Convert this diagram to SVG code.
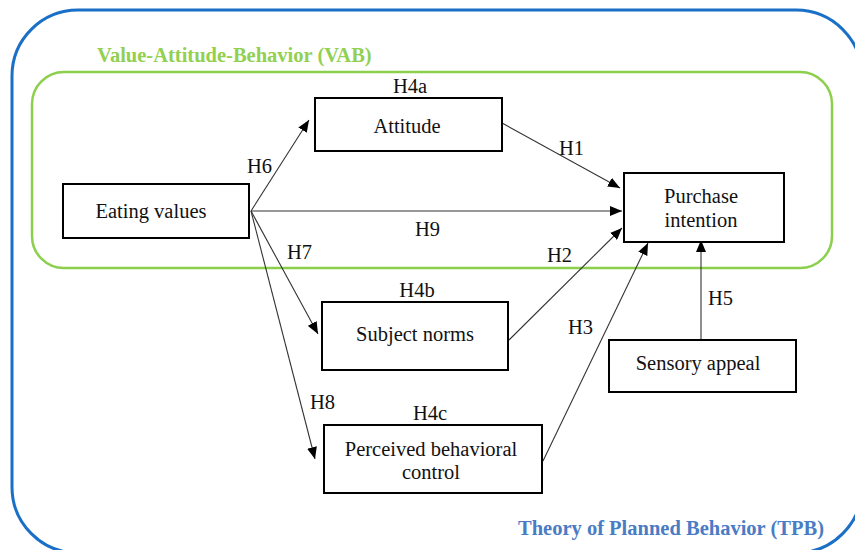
<svg xmlns="http://www.w3.org/2000/svg" width="855" height="550" viewBox="0 0 855 550">
<defs>
<marker id="ah" viewBox="0 0 12 10" refX="12" refY="5" markerWidth="12" markerHeight="10" markerUnits="userSpaceOnUse" orient="auto">
<path d="M0,0 L12,5 L0,10 z" fill="#000"/>
</marker>
<style>
text{font-family:'Liberation Serif','Times New Roman',serif}
.t{font-size:20.5px;fill:#111}
.box{fill:#fff;stroke:#000;stroke-width:2}
.c{stroke:#333;stroke-width:1.1;fill:none;marker-end:url(#ah)}
</style>
</defs>
<rect width="855" height="550" fill="#fff"/>
<g id="tpb">
<rect x="12" y="10" width="850" height="543" rx="66" ry="66" fill="none" stroke="#1a6fc6" stroke-width="3"/>
<text x="518" y="535" font-family="Liberation Serif, serif" font-size="20.5" font-weight="bold" fill="#4a7cc4">Theory of Planned Behavior (TPB)</text>
</g>
<g id="vab">
<rect x="32" y="72" width="800" height="196" rx="32" ry="32" fill="none" stroke="#8ccf4d" stroke-width="2.5"/>
<text x="97" y="62" font-family="Liberation Serif, serif" font-size="20.5" font-weight="bold" fill="#92d050">Value-Attitude-Behavior (VAB)</text>
</g>
<g id="connectors">
<line class="c" x1="251" y1="211" x2="309" y2="120"/>
<line class="c" x1="251" y1="211" x2="622" y2="211"/>
<line class="c" x1="502" y1="123" x2="620" y2="188"/>
<line class="c" x1="509" y1="340" x2="622" y2="228"/>
<line class="c" x1="543" y1="461" x2="648" y2="243"/>
<line class="c" x1="701" y1="340" x2="701" y2="240"/>
<line class="c" x1="251" y1="211" x2="318" y2="334"/>
<line class="c" x1="251" y1="211" x2="315" y2="459"/>
<text class="t" x="247" y="173">H6</text>
<text class="t" x="415" y="236">H9</text>
<text class="t" x="559" y="155">H1</text>
<text class="t" x="547" y="262">H2</text>
<text class="t" x="568" y="334">H3</text>
<text class="t" x="708" y="305">H5</text>
<text class="t" x="287" y="259">H7</text>
<text class="t" x="310" y="409">H8</text>
</g>
<g id="eating">
<rect class="box" x="63" y="184" width="186" height="54"/>
<text class="t" x="151" y="218" text-anchor="middle">Eating values</text>
</g>
<g id="attitude">
<rect class="box" x="315" y="98" width="187" height="53"/>
<text class="t" x="407" y="133" text-anchor="middle">Attitude</text>
<text class="t" x="410" y="93" text-anchor="middle">H4a</text>
</g>
<g id="purchase">
<rect class="box" x="624" y="173" width="160" height="69"/>
<text class="t" x="701" y="203" text-anchor="middle">Purchase</text>
<text class="t" x="701" y="227" text-anchor="middle">intention</text>
</g>
<g id="subject">
<rect class="box" x="322" y="302" width="186" height="68"/>
<text class="t" x="415" y="341" text-anchor="middle">Subject norms</text>
<text class="t" x="417" y="297" text-anchor="middle">H4b</text>
</g>
<g id="perceived">
<rect class="box" x="324" y="425" width="218" height="68"/>
<text class="t" x="431" y="456" text-anchor="middle">Perceived behavioral</text>
<text class="t" x="431" y="479" text-anchor="middle">control</text>
<text class="t" x="430" y="420" text-anchor="middle">H4c</text>
</g>
<g id="sensory">
<rect class="box" x="609" y="340" width="187" height="52"/>
<text class="t" x="698" y="370" text-anchor="middle">Sensory appeal</text>
</g>
</svg>
